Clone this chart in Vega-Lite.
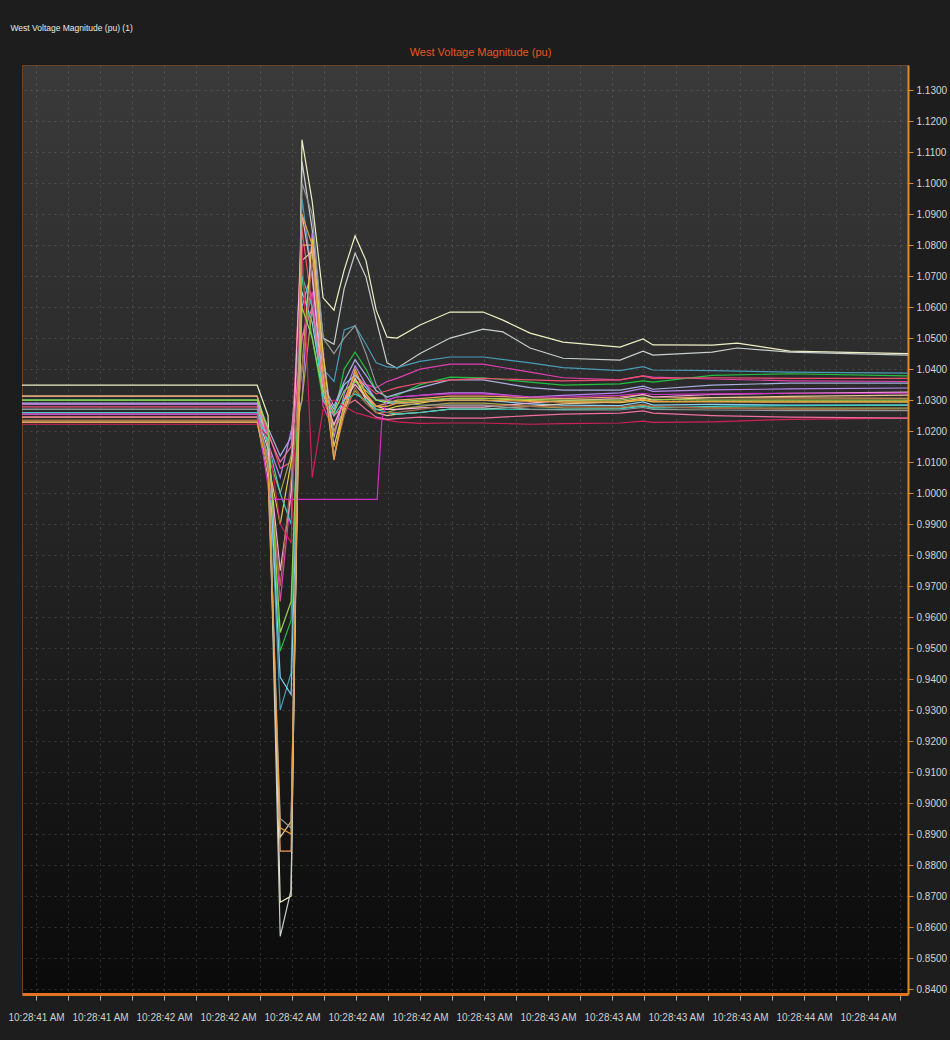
{
"$schema": "https://vega.github.io/schema/vega-lite/v6.json",
"width": 886,
"height": 929,
"autosize": {"type": "none"},
"padding": {"left": 22, "top": 65, "right": 42, "bottom": 46},
"background": "#1d1d1d",
"config": {
 "font": "Liberation Sans, Arial, sans-serif",
 "view": {"fill": {"gradient": "linear", "x1": 0, "y1": 0, "x2": 0, "y2": 1, "stops": [{"offset": 0, "color": "#3a3a3a"}, {"offset": 0.5, "color": "#242424"}, {"offset": 1, "color": "#0a0a0a"}]}, "stroke": "#6a4424", "strokeWidth": 1}
},
"data": {"values": [
{"s":"L1","t":41.556,"v":1.0348},{"s":"L1","t":42.291,"v":1.0348},{"s":"L1","t":42.325,"v":1.025},{"s":"L1","t":42.363,"v":0.868},{"s":"L1","t":42.397,"v":0.870},{"s":"L1","t":42.431,"v":1.114},{"s":"L1","t":42.463,"v":1.094},{"s":"L1","t":42.497,"v":1.063},{"s":"L1","t":42.531,"v":1.059},{"s":"L1","t":42.563,"v":1.072},{"s":"L1","t":42.597,"v":1.083},{"s":"L1","t":42.631,"v":1.075},{"s":"L1","t":42.663,"v":1.059},{"s":"L1","t":42.697,"v":1.0503},{"s":"L1","t":42.728,"v":1.05},{"s":"L1","t":42.8,"v":1.0542},{"s":"L1","t":42.894,"v":1.0584},{"s":"L1","t":42.997,"v":1.0584},{"s":"L1","t":43.059,"v":1.0558},{"s":"L1","t":43.144,"v":1.0516},{"s":"L1","t":43.247,"v":1.0487},{"s":"L1","t":43.425,"v":1.0471},{"s":"L1","t":43.497,"v":1.0497},{"s":"L1","t":43.528,"v":1.0478},{"s":"L1","t":43.713,"v":1.0477},{"s":"L1","t":43.791,"v":1.0484},{"s":"L1","t":43.956,"v":1.0458},{"s":"L1","t":44.325,"v":1.045},
{"s":"L2","t":41.556,"v":1.0313},{"s":"L2","t":42.291,"v":1.0313},{"s":"L2","t":42.325,"v":1.02},{"s":"L2","t":42.363,"v":0.857},{"s":"L2","t":42.397,"v":0.872},{"s":"L2","t":42.431,"v":1.107},{"s":"L2","t":42.463,"v":1.085},{"s":"L2","t":42.497,"v":1.05},{"s":"L2","t":42.531,"v":1.048},{"s":"L2","t":42.563,"v":1.066},{"s":"L2","t":42.597,"v":1.0774},{"s":"L2","t":42.631,"v":1.0697},{"s":"L2","t":42.663,"v":1.0558},{"s":"L2","t":42.697,"v":1.042},{"s":"L2","t":42.728,"v":1.0403},{"s":"L2","t":42.8,"v":1.045},{"s":"L2","t":42.894,"v":1.05},{"s":"L2","t":42.997,"v":1.0529},{"s":"L2","t":43.059,"v":1.052},{"s":"L2","t":43.144,"v":1.0468},{"s":"L2","t":43.247,"v":1.0435},{"s":"L2","t":43.425,"v":1.0429},{"s":"L2","t":43.497,"v":1.0458},{"s":"L2","t":43.528,"v":1.0445},{"s":"L2","t":43.713,"v":1.0455},{"s":"L2","t":43.791,"v":1.0468},{"s":"L2","t":43.956,"v":1.0455},{"s":"L2","t":44.325,"v":1.0445},
{"s":"L3","t":41.556,"v":1.030},{"s":"L3","t":42.291,"v":1.030},{"s":"L3","t":42.325,"v":1.019},{"s":"L3","t":42.363,"v":0.93},{"s":"L3","t":42.397,"v":0.942},{"s":"L3","t":42.431,"v":1.095},{"s":"L3","t":42.463,"v":1.07},{"s":"L3","t":42.497,"v":1.04},{"s":"L3","t":42.531,"v":1.036},{"s":"L3","t":42.563,"v":1.0526},{"s":"L3","t":42.597,"v":1.054},{"s":"L3","t":42.631,"v":1.048},{"s":"L3","t":42.663,"v":1.042},{"s":"L3","t":42.697,"v":1.0407},{"s":"L3","t":42.728,"v":1.0405},{"s":"L3","t":42.8,"v":1.0425},{"s":"L3","t":42.894,"v":1.0439},{"s":"L3","t":42.997,"v":1.0439},{"s":"L3","t":43.144,"v":1.042},{"s":"L3","t":43.247,"v":1.0405},{"s":"L3","t":43.425,"v":1.0395},{"s":"L3","t":43.497,"v":1.0408},{"s":"L3","t":43.528,"v":1.0397},{"s":"L3","t":43.713,"v":1.0395},{"s":"L3","t":43.956,"v":1.039},{"s":"L3","t":44.325,"v":1.0387},
{"s":"L4","t":41.556,"v":1.0287},{"s":"L4","t":42.291,"v":1.0287},{"s":"L4","t":42.325,"v":1.018},{"s":"L4","t":42.363,"v":0.965},{"s":"L4","t":42.397,"v":1.0},{"s":"L4","t":42.431,"v":1.05},{"s":"L4","t":42.463,"v":1.065},{"s":"L4","t":42.497,"v":1.028},{"s":"L4","t":42.531,"v":1.02},{"s":"L4","t":42.563,"v":1.03},{"s":"L4","t":42.597,"v":1.036},{"s":"L4","t":42.631,"v":1.035},{"s":"L4","t":42.663,"v":1.034},{"s":"L4","t":42.697,"v":1.036},{"s":"L4","t":42.728,"v":1.037},{"s":"L4","t":42.8,"v":1.04},{"s":"L4","t":42.894,"v":1.0416},{"s":"L4","t":42.997,"v":1.0416},{"s":"L4","t":43.144,"v":1.039},{"s":"L4","t":43.247,"v":1.0372},{"s":"L4","t":43.425,"v":1.0365},{"s":"L4","t":43.497,"v":1.0378},{"s":"L4","t":43.528,"v":1.0374},{"s":"L4","t":43.713,"v":1.0368},{"s":"L4","t":43.956,"v":1.0362},{"s":"L4","t":44.325,"v":1.036},
{"s":"L5","t":41.556,"v":1.03},{"s":"L5","t":42.291,"v":1.03},{"s":"L5","t":42.325,"v":1.02},{"s":"L5","t":42.363,"v":0.949},{"s":"L5","t":42.397,"v":0.959},{"s":"L5","t":42.431,"v":1.07},{"s":"L5","t":42.463,"v":1.05},{"s":"L5","t":42.497,"v":1.03},{"s":"L5","t":42.531,"v":1.025},{"s":"L5","t":42.563,"v":1.04},{"s":"L5","t":42.597,"v":1.0455},{"s":"L5","t":42.631,"v":1.04},{"s":"L5","t":42.663,"v":1.033},{"s":"L5","t":42.697,"v":1.031},{"s":"L5","t":42.728,"v":1.0315},{"s":"L5","t":42.8,"v":1.035},{"s":"L5","t":42.894,"v":1.0374},{"s":"L5","t":42.997,"v":1.0372},{"s":"L5","t":43.144,"v":1.0358},{"s":"L5","t":43.247,"v":1.0348},{"s":"L5","t":43.425,"v":1.0352},{"s":"L5","t":43.497,"v":1.0362},{"s":"L5","t":43.528,"v":1.0358},{"s":"L5","t":43.713,"v":1.038},{"s":"L5","t":43.956,"v":1.0385},{"s":"L5","t":44.325,"v":1.0378},
{"s":"L6","t":41.556,"v":1.029},{"s":"L6","t":42.291,"v":1.029},{"s":"L6","t":42.325,"v":1.021},{"s":"L6","t":42.363,"v":1.012},{"s":"L6","t":42.397,"v":1.018},{"s":"L6","t":42.431,"v":1.06},{"s":"L6","t":42.463,"v":1.072},{"s":"L6","t":42.497,"v":1.035},{"s":"L6","t":42.531,"v":1.028},{"s":"L6","t":42.563,"v":1.036},{"s":"L6","t":42.597,"v":1.043},{"s":"L6","t":42.631,"v":1.038},{"s":"L6","t":42.663,"v":1.033},{"s":"L6","t":42.697,"v":1.031},{"s":"L6","t":42.728,"v":1.032},{"s":"L6","t":42.8,"v":1.034},{"s":"L6","t":42.894,"v":1.0365},{"s":"L6","t":42.997,"v":1.0365},{"s":"L6","t":43.144,"v":1.034},{"s":"L6","t":43.247,"v":1.0332},{"s":"L6","t":43.425,"v":1.0332},{"s":"L6","t":43.497,"v":1.0345},{"s":"L6","t":43.528,"v":1.0335},{"s":"L6","t":43.713,"v":1.0348},{"s":"L6","t":43.956,"v":1.0355},{"s":"L6","t":44.325,"v":1.0355},
{"s":"L7","t":41.556,"v":1.0278},{"s":"L7","t":42.291,"v":1.0278},{"s":"L7","t":42.325,"v":1.02},{"s":"L7","t":42.363,"v":1.008},{"s":"L7","t":42.397,"v":1.01},{"s":"L7","t":42.431,"v":1.085},{"s":"L7","t":42.463,"v":1.06},{"s":"L7","t":42.497,"v":1.03},{"s":"L7","t":42.531,"v":1.022},{"s":"L7","t":42.563,"v":1.03},{"s":"L7","t":42.597,"v":1.038},{"s":"L7","t":42.631,"v":1.035},{"s":"L7","t":42.663,"v":1.032},{"s":"L7","t":42.697,"v":1.033},{"s":"L7","t":42.728,"v":1.034},{"s":"L7","t":42.8,"v":1.0355},{"s":"L7","t":42.894,"v":1.0365},{"s":"L7","t":42.997,"v":1.037},{"s":"L7","t":43.144,"v":1.0365},{"s":"L7","t":43.247,"v":1.0362},{"s":"L7","t":43.425,"v":1.0365},{"s":"L7","t":43.497,"v":1.0378},{"s":"L7","t":43.528,"v":1.037},{"s":"L7","t":43.713,"v":1.0372},{"s":"L7","t":43.956,"v":1.037},{"s":"L7","t":44.325,"v":1.037},
{"s":"L8","t":41.556,"v":1.0287},{"s":"L8","t":42.291,"v":1.0287},{"s":"L8","t":42.325,"v":1.016},{"s":"L8","t":42.363,"v":1.005},{"s":"L8","t":42.397,"v":1.02},{"s":"L8","t":42.431,"v":1.03},{"s":"L8","t":42.463,"v":1.084},{"s":"L8","t":42.497,"v":1.045},{"s":"L8","t":42.531,"v":1.018},{"s":"L8","t":42.563,"v":1.032},{"s":"L8","t":42.597,"v":1.041},{"s":"L8","t":42.631,"v":1.035},{"s":"L8","t":42.663,"v":1.03},{"s":"L8","t":42.697,"v":1.03},{"s":"L8","t":42.728,"v":1.031},{"s":"L8","t":42.8,"v":1.0315},{"s":"L8","t":42.894,"v":1.0323},{"s":"L8","t":42.997,"v":1.0323},{"s":"L8","t":43.144,"v":1.031},{"s":"L8","t":43.247,"v":1.0315},{"s":"L8","t":43.425,"v":1.0323},{"s":"L8","t":43.497,"v":1.0338},{"s":"L8","t":43.528,"v":1.0328},{"s":"L8","t":43.713,"v":1.0333},{"s":"L8","t":43.956,"v":1.0336},{"s":"L8","t":44.325,"v":1.0339},
{"s":"L9","t":41.556,"v":1.0313},{"s":"L9","t":42.291,"v":1.0313},{"s":"L9","t":42.325,"v":1.015},{"s":"L9","t":42.363,"v":0.8845},{"s":"L9","t":42.397,"v":0.8845},{"s":"L9","t":42.431,"v":1.08},{"s":"L9","t":42.463,"v":1.08},{"s":"L9","t":42.497,"v":1.04},{"s":"L9","t":42.531,"v":1.0106},{"s":"L9","t":42.563,"v":1.03},{"s":"L9","t":42.597,"v":1.039},{"s":"L9","t":42.631,"v":1.032},{"s":"L9","t":42.663,"v":1.028},{"s":"L9","t":42.697,"v":1.029},{"s":"L9","t":42.728,"v":1.03},{"s":"L9","t":42.8,"v":1.0305},{"s":"L9","t":42.894,"v":1.0313},{"s":"L9","t":42.997,"v":1.0313},{"s":"L9","t":43.144,"v":1.0308},{"s":"L9","t":43.247,"v":1.0305},{"s":"L9","t":43.425,"v":1.031},{"s":"L9","t":43.497,"v":1.0318},{"s":"L9","t":43.528,"v":1.031},{"s":"L9","t":43.713,"v":1.0308},{"s":"L9","t":43.956,"v":1.0307},{"s":"L9","t":44.325,"v":1.0306},
{"s":"L10","t":41.556,"v":1.0245},{"s":"L10","t":42.291,"v":1.0245},{"s":"L10","t":42.325,"v":1.01},{"s":"L10","t":42.363,"v":0.99},{"s":"L10","t":42.397,"v":1.01},{"s":"L10","t":42.431,"v":1.04},{"s":"L10","t":42.463,"v":1.082},{"s":"L10","t":42.497,"v":1.045},{"s":"L10","t":42.531,"v":1.015},{"s":"L10","t":42.563,"v":1.028},{"s":"L10","t":42.597,"v":1.037},{"s":"L10","t":42.631,"v":1.031},{"s":"L10","t":42.663,"v":1.027},{"s":"L10","t":42.697,"v":1.027},{"s":"L10","t":42.728,"v":1.028},{"s":"L10","t":42.8,"v":1.029},{"s":"L10","t":42.894,"v":1.0306},{"s":"L10","t":42.997,"v":1.0306},{"s":"L10","t":43.144,"v":1.0298},{"s":"L10","t":43.247,"v":1.0294},{"s":"L10","t":43.425,"v":1.0292},{"s":"L10","t":43.497,"v":1.03},{"s":"L10","t":43.528,"v":1.0294},{"s":"L10","t":43.713,"v":1.0295},{"s":"L10","t":43.956,"v":1.0294},{"s":"L10","t":44.325,"v":1.0294},
{"s":"L11","t":41.556,"v":1.027},{"s":"L11","t":42.291,"v":1.027},{"s":"L11","t":42.325,"v":1.017},{"s":"L11","t":42.363,"v":0.9406},{"s":"L11","t":42.397,"v":0.935},{"s":"L11","t":42.431,"v":1.065},{"s":"L11","t":42.463,"v":1.055},{"s":"L11","t":42.497,"v":1.033},{"s":"L11","t":42.531,"v":1.027},{"s":"L11","t":42.563,"v":1.035},{"s":"L11","t":42.597,"v":1.038},{"s":"L11","t":42.631,"v":1.034},{"s":"L11","t":42.663,"v":1.03},{"s":"L11","t":42.697,"v":1.029},{"s":"L11","t":42.728,"v":1.029},{"s":"L11","t":42.8,"v":1.0295},{"s":"L11","t":42.894,"v":1.03},{"s":"L11","t":42.997,"v":1.03},{"s":"L11","t":43.144,"v":1.0288},{"s":"L11","t":43.247,"v":1.0284},{"s":"L11","t":43.425,"v":1.0282},{"s":"L11","t":43.497,"v":1.0294},{"s":"L11","t":43.528,"v":1.0284},{"s":"L11","t":43.713,"v":1.0286},{"s":"L11","t":43.956,"v":1.0284},{"s":"L11","t":44.325,"v":1.0284},
{"s":"L12","t":41.556,"v":1.0235},{"s":"L12","t":42.291,"v":1.0235},{"s":"L12","t":42.325,"v":1.012},{"s":"L12","t":42.363,"v":1.0},{"s":"L12","t":42.397,"v":1.012},{"s":"L12","t":42.431,"v":1.03},{"s":"L12","t":42.463,"v":1.06},{"s":"L12","t":42.497,"v":1.035},{"s":"L12","t":42.531,"v":1.02},{"s":"L12","t":42.563,"v":1.027},{"s":"L12","t":42.597,"v":1.033},{"s":"L12","t":42.631,"v":1.029},{"s":"L12","t":42.663,"v":1.026},{"s":"L12","t":42.697,"v":1.026},{"s":"L12","t":42.728,"v":1.027},{"s":"L12","t":42.8,"v":1.028},{"s":"L12","t":42.894,"v":1.029},{"s":"L12","t":42.997,"v":1.029},{"s":"L12","t":43.144,"v":1.028},{"s":"L12","t":43.247,"v":1.0275},{"s":"L12","t":43.425,"v":1.0274},{"s":"L12","t":43.497,"v":1.0284},{"s":"L12","t":43.528,"v":1.0276},{"s":"L12","t":43.713,"v":1.0275},{"s":"L12","t":43.956,"v":1.0274},{"s":"L12","t":44.325,"v":1.0274},
{"s":"L13","t":41.556,"v":1.0255},{"s":"L13","t":42.291,"v":1.0255},{"s":"L13","t":42.325,"v":1.014},{"s":"L13","t":42.363,"v":0.975},{"s":"L13","t":42.397,"v":1.0},{"s":"L13","t":42.431,"v":1.09},{"s":"L13","t":42.463,"v":1.07},{"s":"L13","t":42.497,"v":1.032},{"s":"L13","t":42.531,"v":1.022},{"s":"L13","t":42.563,"v":1.03},{"s":"L13","t":42.597,"v":1.035},{"s":"L13","t":42.631,"v":1.031},{"s":"L13","t":42.663,"v":1.028},{"s":"L13","t":42.697,"v":1.027},{"s":"L13","t":42.728,"v":1.027},{"s":"L13","t":42.8,"v":1.0275},{"s":"L13","t":42.894,"v":1.0277},{"s":"L13","t":42.997,"v":1.0277},{"s":"L13","t":43.144,"v":1.029},{"s":"L13","t":43.247,"v":1.0298},{"s":"L13","t":43.425,"v":1.0305},{"s":"L13","t":43.497,"v":1.0318},{"s":"L13","t":43.528,"v":1.031},{"s":"L13","t":43.713,"v":1.0318},{"s":"L13","t":43.956,"v":1.0322},{"s":"L13","t":44.325,"v":1.0326},
{"s":"L14","t":41.556,"v":1.0229},{"s":"L14","t":42.291,"v":1.0229},{"s":"L14","t":42.325,"v":1.005},{"s":"L14","t":42.363,"v":0.889},{"s":"L14","t":42.397,"v":0.894},{"s":"L14","t":42.431,"v":1.075},{"s":"L14","t":42.463,"v":1.078},{"s":"L14","t":42.497,"v":1.04},{"s":"L14","t":42.531,"v":1.012},{"s":"L14","t":42.563,"v":1.026},{"s":"L14","t":42.597,"v":1.037},{"s":"L14","t":42.631,"v":1.03},{"s":"L14","t":42.663,"v":1.026},{"s":"L14","t":42.697,"v":1.025},{"s":"L14","t":42.728,"v":1.0255},{"s":"L14","t":42.8,"v":1.026},{"s":"L14","t":42.894,"v":1.0271},{"s":"L14","t":42.997,"v":1.0271},{"s":"L14","t":43.144,"v":1.028},{"s":"L14","t":43.247,"v":1.0288},{"s":"L14","t":43.425,"v":1.0294},{"s":"L14","t":43.497,"v":1.0306},{"s":"L14","t":43.528,"v":1.03},{"s":"L14","t":43.713,"v":1.0308},{"s":"L14","t":43.956,"v":1.0312},{"s":"L14","t":44.325,"v":1.0316},
{"s":"L15","t":41.556,"v":1.026},{"s":"L15","t":42.291,"v":1.026},{"s":"L15","t":42.325,"v":1.016},{"s":"L15","t":42.363,"v":1.0},{"s":"L15","t":42.397,"v":0.99},{"s":"L15","t":42.431,"v":1.07},{"s":"L15","t":42.463,"v":1.06},{"s":"L15","t":42.497,"v":1.03},{"s":"L15","t":42.531,"v":1.025},{"s":"L15","t":42.563,"v":1.03},{"s":"L15","t":42.597,"v":1.032},{"s":"L15","t":42.631,"v":1.03},{"s":"L15","t":42.663,"v":1.027},{"s":"L15","t":42.697,"v":1.026},{"s":"L15","t":42.728,"v":1.0255},{"s":"L15","t":42.8,"v":1.026},{"s":"L15","t":42.894,"v":1.0271},{"s":"L15","t":42.997,"v":1.0271},{"s":"L15","t":43.144,"v":1.027},{"s":"L15","t":43.247,"v":1.027},{"s":"L15","t":43.425,"v":1.0272},{"s":"L15","t":43.497,"v":1.028},{"s":"L15","t":43.528,"v":1.0274},{"s":"L15","t":43.713,"v":1.028},{"s":"L15","t":43.956,"v":1.0282},{"s":"L15","t":44.325,"v":1.0284},
{"s":"L16","t":41.556,"v":1.0222},{"s":"L16","t":42.291,"v":1.0222},{"s":"L16","t":42.325,"v":1.018},{"s":"L16","t":42.363,"v":0.99},{"s":"L16","t":42.397,"v":0.984},{"s":"L16","t":42.431,"v":1.08},{"s":"L16","t":42.463,"v":1.005},{"s":"L16","t":42.497,"v":1.027},{"s":"L16","t":42.531,"v":1.03},{"s":"L16","t":42.563,"v":1.028},{"s":"L16","t":42.597,"v":1.026},{"s":"L16","t":42.631,"v":1.025},{"s":"L16","t":42.663,"v":1.024},{"s":"L16","t":42.697,"v":1.0235},{"s":"L16","t":42.728,"v":1.023},{"s":"L16","t":42.8,"v":1.0225},{"s":"L16","t":42.894,"v":1.0226},{"s":"L16","t":42.997,"v":1.0226},{"s":"L16","t":43.144,"v":1.0222},{"s":"L16","t":43.247,"v":1.0224},{"s":"L16","t":43.425,"v":1.0226},{"s":"L16","t":43.497,"v":1.0232},{"s":"L16","t":43.528,"v":1.0228},{"s":"L16","t":43.713,"v":1.023},{"s":"L16","t":43.956,"v":1.0238},{"s":"L16","t":44.325,"v":1.0242},
{"s":"L17","t":41.556,"v":1.0245},{"s":"L17","t":42.291,"v":1.0245},{"s":"L17","t":42.325,"v":1.019},{"s":"L17","t":42.363,"v":1.01},{"s":"L17","t":42.397,"v":1.015},{"s":"L17","t":42.431,"v":1.05},{"s":"L17","t":42.463,"v":1.06},{"s":"L17","t":42.497,"v":1.035},{"s":"L17","t":42.531,"v":1.025},{"s":"L17","t":42.563,"v":1.028},{"s":"L17","t":42.597,"v":1.03},{"s":"L17","t":42.631,"v":1.027},{"s":"L17","t":42.663,"v":1.0245},{"s":"L17","t":42.697,"v":1.0238},{"s":"L17","t":42.728,"v":1.024},{"s":"L17","t":42.8,"v":1.0245},{"s":"L17","t":42.894,"v":1.0242},{"s":"L17","t":42.997,"v":1.0242},{"s":"L17","t":43.144,"v":1.025},{"s":"L17","t":43.247,"v":1.0255},{"s":"L17","t":43.425,"v":1.0258},{"s":"L17","t":43.497,"v":1.0265},{"s":"L17","t":43.528,"v":1.0258},{"s":"L17","t":43.713,"v":1.025},{"s":"L17","t":43.956,"v":1.0245},{"s":"L17","t":44.325,"v":1.0242},
{"s":"L18","t":41.556,"v":1.0235},{"s":"L18","t":42.291,"v":1.0235},{"s":"L18","t":42.325,"v":1.01},{"s":"L18","t":42.363,"v":0.97},{"s":"L18","t":42.397,"v":1.005},{"s":"L18","t":42.431,"v":1.04},{"s":"L18","t":42.463,"v":1.075},{"s":"L18","t":42.497,"v":1.04},{"s":"L18","t":42.531,"v":1.012},{"s":"L18","t":42.563,"v":1.025},{"s":"L18","t":42.597,"v":1.034},{"s":"L18","t":42.631,"v":1.029},{"s":"L18","t":42.663,"v":1.026},{"s":"L18","t":42.697,"v":1.026},{"s":"L18","t":42.728,"v":1.026},{"s":"L18","t":42.8,"v":1.027},{"s":"L18","t":42.894,"v":1.0284},{"s":"L18","t":42.997,"v":1.0284},{"s":"L18","t":43.144,"v":1.028},{"s":"L18","t":43.247,"v":1.0278},{"s":"L18","t":43.425,"v":1.0278},{"s":"L18","t":43.497,"v":1.0286},{"s":"L18","t":43.528,"v":1.028},{"s":"L18","t":43.713,"v":1.0274},{"s":"L18","t":43.956,"v":1.027},{"s":"L18","t":44.325,"v":1.0268},
{"s":"L19","t":41.556,"v":1.0255},{"s":"L19","t":42.291,"v":1.0255},{"s":"L19","t":42.331,"v":0.998},{"s":"L19","t":42.666,"v":0.998},{"s":"L19","t":42.681,"v":1.024},{"s":"L19","t":42.697,"v":1.03},{"s":"L19","t":42.728,"v":1.031},{"s":"L19","t":42.8,"v":1.0315},{"s":"L19","t":42.894,"v":1.032},{"s":"L19","t":42.997,"v":1.032},{"s":"L19","t":43.144,"v":1.031},{"s":"L19","t":43.247,"v":1.031},{"s":"L19","t":43.425,"v":1.0315},{"s":"L19","t":43.497,"v":1.0322},{"s":"L19","t":43.528,"v":1.0318},{"s":"L19","t":43.713,"v":1.032},{"s":"L19","t":43.956,"v":1.0322},{"s":"L19","t":44.325,"v":1.0322},
{"s":"L20","t":41.556,"v":1.03},{"s":"L20","t":42.291,"v":1.03},{"s":"L20","t":42.325,"v":1.021},{"s":"L20","t":42.363,"v":0.955},{"s":"L20","t":42.397,"v":0.965},{"s":"L20","t":42.431,"v":1.06},{"s":"L20","t":42.463,"v":1.05},{"s":"L20","t":42.497,"v":1.032},{"s":"L20","t":42.531,"v":1.026},{"s":"L20","t":42.563,"v":1.033},{"s":"L20","t":42.597,"v":1.036},{"s":"L20","t":42.631,"v":1.033},{"s":"L20","t":42.663,"v":1.03},{"s":"L20","t":42.697,"v":1.0295},{"s":"L20","t":42.728,"v":1.0295},{"s":"L20","t":42.8,"v":1.03},{"s":"L20","t":42.894,"v":1.0306},{"s":"L20","t":42.997,"v":1.0306},{"s":"L20","t":43.144,"v":1.0302},{"s":"L20","t":43.247,"v":1.03},{"s":"L20","t":43.425,"v":1.03},{"s":"L20","t":43.497,"v":1.031},{"s":"L20","t":43.528,"v":1.0302},{"s":"L20","t":43.713,"v":1.03},{"s":"L20","t":43.956,"v":1.03},{"s":"L20","t":44.325,"v":1.03},
{"s":"L21","t":41.556,"v":1.027},{"s":"L21","t":42.291,"v":1.027},{"s":"L21","t":42.325,"v":1.01},{"s":"L21","t":42.363,"v":0.895},{"s":"L21","t":42.397,"v":0.892},{"s":"L21","t":42.431,"v":1.1},{"s":"L21","t":42.463,"v":1.09},{"s":"L21","t":42.497,"v":1.05},{"s":"L21","t":42.531,"v":1.045},{"s":"L21","t":42.563,"v":1.05},{"s":"L21","t":42.597,"v":1.054},{"s":"L21","t":42.631,"v":1.045},{"s":"L21","t":42.663,"v":1.035},{"s":"L21","t":42.697,"v":1.03},{"s":"L21","t":42.728,"v":1.029},{"s":"L21","t":42.8,"v":1.0285},{"s":"L21","t":42.894,"v":1.0284},{"s":"L21","t":42.997,"v":1.0284},{"s":"L21","t":43.144,"v":1.027},{"s":"L21","t":43.247,"v":1.0268},{"s":"L21","t":43.425,"v":1.0268},{"s":"L21","t":43.497,"v":1.0276},{"s":"L21","t":43.528,"v":1.027},{"s":"L21","t":43.713,"v":1.0268},{"s":"L21","t":43.956,"v":1.0266},{"s":"L21","t":44.325,"v":1.0266},
{"s":"L22","t":41.556,"v":1.0229},{"s":"L22","t":42.291,"v":1.0229},{"s":"L22","t":42.325,"v":1.008},{"s":"L22","t":42.363,"v":0.892},{"s":"L22","t":42.397,"v":0.89},{"s":"L22","t":42.431,"v":1.09},{"s":"L22","t":42.463,"v":1.08},{"s":"L22","t":42.497,"v":1.038},{"s":"L22","t":42.531,"v":1.011},{"s":"L22","t":42.563,"v":1.027},{"s":"L22","t":42.597,"v":1.04},{"s":"L22","t":42.631,"v":1.032},{"s":"L22","t":42.663,"v":1.028},{"s":"L22","t":42.697,"v":1.028},{"s":"L22","t":42.728,"v":1.029},{"s":"L22","t":42.8,"v":1.0295},{"s":"L22","t":42.894,"v":1.03},{"s":"L22","t":42.997,"v":1.03},{"s":"L22","t":43.144,"v":1.0296},{"s":"L22","t":43.247,"v":1.0294},{"s":"L22","t":43.425,"v":1.0294},{"s":"L22","t":43.497,"v":1.0302},{"s":"L22","t":43.528,"v":1.0296},{"s":"L22","t":43.713,"v":1.0295},{"s":"L22","t":43.956,"v":1.0294},{"s":"L22","t":44.325,"v":1.0294}
]},
"mark": {"type": "line", "strokeWidth": 1.2, "clip": true},
"encoding": {
 "x": {"field": "t", "type": "quantitative", "scale": {"domain": [41.556, 44.325], "nice": false, "zero": false},
  "axis": {"values": [41.6,41.7,41.8,41.9,42.0,42.1,42.2,42.3,42.4,42.5,42.6,42.7,42.8,42.9,43.0,43.1,43.2,43.3,43.4,43.5,43.6,43.7,43.8,43.9,44.0,44.1,44.2,44.3],
   "labelExpr": "round(datum.value*10)%2==0 ? '10:28:' + floor(datum.value+0.001) + ' AM' : ''",
   "grid": true, "gridColor": "#9a9a9a", "gridDash": [2,4], "gridOpacity": 0.28,
   "domainColor": "#e07424", "domainWidth": 3, "tickColor": "#b0b0b0", "tickSize": 6,
   "labelColor": "#cfcfcf", "labelFontSize": 10, "labelPadding": 12, "labelFlush": false, "labelOverlap": false,
   "title": "West Voltage Magnitude (pu) (1)", "titleX": -12, "titleY": -967, "titleAlign": "left", "titleAnchor": null, "titleBaseline": "middle", "titleColor": "#e8e8e8", "titleFontSize": 8.5, "titleFontWeight": "normal"}},
 "y": {"field": "v", "type": "quantitative", "scale": {"domain": [0.8384, 1.1381], "nice": false, "zero": false},
  "axis": {"orient": "right", "values": [0.84,0.85,0.86,0.87,0.88,0.89,0.9,0.91,0.92,0.93,0.94,0.95,0.96,0.97,0.98,0.99,1.0,1.01,1.02,1.03,1.04,1.05,1.06,1.07,1.08,1.09,1.1,1.11,1.12,1.13],
   "format": ".4f", "grid": true, "gridColor": "#9a9a9a", "gridDash": [2,4], "gridOpacity": 0.28,
   "domainColor": "#e08a20", "domainWidth": 2, "tickColor": "#e08a20", "tickSize": 5,
   "labelColor": "#d6d6d6", "labelFontSize": 10, "labelPadding": 3,
   "title": "West Voltage Magnitude (pu)", "titleAngle": 0, "titleX": -428, "titleY": -10, "titleAlign": "center", "titleBaseline": "alphabetic", "titleColor": "#e8561e", "titleFontSize": 11, "titleFontWeight": "normal"}},
 "color": {"field": "s", "type": "nominal", "legend": null,
  "scale": {"domain": ["L1","L2","L3","L4","L5","L6","L7","L8","L9","L10","L11","L12","L13","L14","L15","L16","L17","L18","L19","L20","L21","L22"],
   "range": ["#eef0c4","#c8cfcc","#4a9cb8","#e040b0","#22c040","#a8b0e0","#f05070","#b888f0","#f0a060","#e0d048","#88d0f0","#a8a850","#f4b0d8","#e8c898","#38d0c8","#d02058","#f070a0","#a86848","#d030c8","#98d050","#909898","#e8a040"]}}
}
}
